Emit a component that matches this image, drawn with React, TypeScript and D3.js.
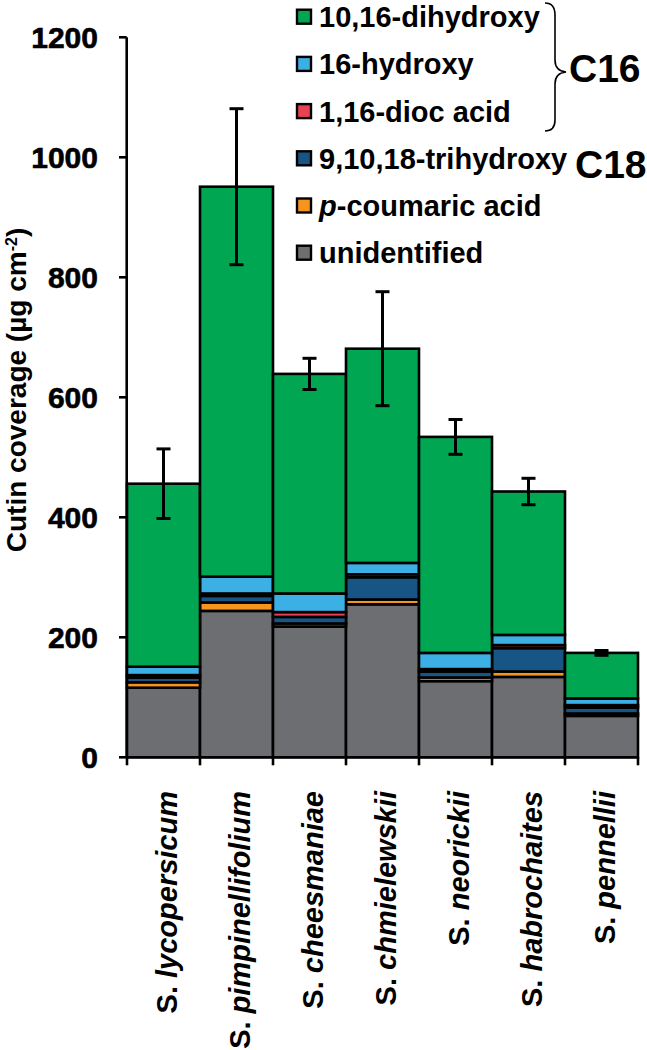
import React from "react";
import * as d3 from "d3";

const species = ["lycopersicum", "pimpinellifolium", "cheesmaniae", "chmielewskii", "neorickii", "habrochaites", "pennellii"];
const unidentified = [116, 244, 218, 255, 127, 134, 69];
const coumaric = [9, 14, 5, 8, 6, 9, 4];
const trihydroxy = [8, 11, 11, 37, 10, 39, 10];
const dioc = [4, 4, 8, 5, 4, 5, 4];
const hydroxy = [14, 28, 31, 19, 27, 17, 11];
const dihydroxy = [305, 650, 366, 357, 360, 239, 76];
const errors = [58, 130, 26, 95, 29, 22, 4];
const yTicks = [0, 200, 400, 600, 800, 1000, 1200];

const keys = ["unidentified", "coumaric", "trihydroxy", "dioc", "hydroxy", "dihydroxy"];
const colors: Record<string, string> = {
  unidentified: "#6d6e71",
  coumaric: "#f7941d",
  trihydroxy: "#175585",
  dioc: "#e8414f",
  hydroxy: "#3cb0e4",
  dihydroxy: "#00a651",
};
const legendItems = [
  { key: "dihydroxy", label: "10,16-dihydroxy" },
  { key: "hydroxy", label: "16-hydroxy" },
  { key: "dioc", label: "1,16-dioc acid" },
  { key: "trihydroxy", label: "9,10,18-trihydroxy" },
  { key: "coumaric", label: "p-coumaric acid" },
  { key: "unidentified", label: "unidentified" },
];

const FONT = "'Liberation Sans', Arial, Helvetica, sans-serif";

export default function App() {
  const x = d3.scaleBand<string>().domain(species).range([127, 638]).padding(0);
  const y = d3.scaleLinear().domain([0, 1200]).range([757.3, 37.3]);
  const table = species.map((s, i) => ({
    species: s,
    unidentified: unidentified[i],
    coumaric: coumaric[i],
    trihydroxy: trihydroxy[i],
    dioc: dioc[i],
    hydroxy: hydroxy[i],
    dihydroxy: dihydroxy[i],
  }));
  const stacked = d3.stack<any>().keys(keys)(table);
  const totals = table.map((d) => keys.reduce((a, k) => a + (d as any)[k], 0));
  const bw = x.bandwidth();

  return (
    <svg width={647} height={1050} style={{ position: "absolute", left: 0, top: 0, background: "#fff" }} fontFamily={FONT}>
      {/* bars */}
      {stacked.map((layer) => (
        <g key={layer.key}>
          {layer.map((seg, i) => (
            <rect
              key={i}
              x={x(species[i])!}
              y={y(seg[1])}
              width={bw}
              height={y(seg[0]) - y(seg[1])}
              fill={colors[layer.key]}
              stroke="#000"
              strokeWidth={2.6}
            />
          ))}
        </g>
      ))}
      {/* error bars */}
      {species.map((s, i) => {
        const cx = x(s)! + bw / 2;
        const t = y(totals[i] + errors[i]);
        const b = y(totals[i] - errors[i]);
        return (
          <g key={s} stroke="#000" strokeWidth={3}>
            <line x1={cx} x2={cx} y1={t} y2={b} />
            <line x1={cx - 7} x2={cx + 7} y1={t} y2={t} />
            <line x1={cx - 7} x2={cx + 7} y1={b} y2={b} />
          </g>
        );
      })}
      {/* y axis */}
      <line x1={126.7} x2={126.7} y1={y(1200)} y2={y(0)} stroke="#000" strokeWidth={2.6} />
      {yTicks.map((t) => (
        <g key={t}>
          <line x1={119} x2={126.7} y1={y(t)} y2={y(t)} stroke="#000" strokeWidth={2.6} />
          <text x={98} y={y(t)} dy="0.36em" textAnchor="end" fontSize={30} fontWeight="bold" stroke="#000" strokeWidth={0.6}>
            {t}
          </text>
        </g>
      ))}
      {/* x axis */}
      <line x1={126.7} x2={638} y1={y(0)} y2={y(0)} stroke="#000" strokeWidth={2.6} />
      {[...species.map((s) => x(s)!), 638].map((px, i) => (
        <line key={i} x1={px} x2={px} y1={y(0)} y2={y(0) + 8} stroke="#000" strokeWidth={2.6} />
      ))}
      {species.map((s) => {
        const cx = x(s)! + bw / 2 + 13;
        return (
          <text
            key={s}
            transform={`translate(${cx},791) rotate(-90)`}
            textAnchor="end"
            fontSize={29}
            fontWeight="bold"
          >
            <tspan>S. </tspan>
            <tspan fontStyle="italic">{s}</tspan>
          </text>
        );
      })}
      {/* y label */}
      <text transform="translate(26,390) rotate(-90)" textAnchor="middle" fontSize={28} fontWeight="bold">
        Cutin coverage (µg cm
        <tspan fontSize={16} dy={-9}>-2</tspan>
        <tspan dy={9}>)</tspan>
      </text>
      {/* legend */}
      {legendItems.map((it, i) => {
        const cy = 16.7 + 47.2 * i;
        return (
          <g key={it.key}>
            <rect x={297} y={cy - 7} width={14} height={14} fill={colors[it.key]} stroke="#000" strokeWidth={2.4} />
            <text x={319} y={cy + 10.5} fontSize={29} fontWeight="bold">
              {it.key === "coumaric" ? (
                <>
                  <tspan fontStyle="italic">p</tspan>
                  <tspan>-coumaric acid</tspan>
                </>
              ) : (
                it.label
              )}
            </text>
          </g>
        );
      })}
      {/* brace */}
      <path
        d="M 545 3 Q 555 3 555 15 L 555 60 Q 555 71 566 72 Q 555 73 555 84 L 555 120 Q 555 131 545 131"
        fill="none"
        stroke="#000"
        strokeWidth={1.6}
      />
      <text x={569} y={81.7} fontSize={39} fontWeight="bold">C16</text>
      <text x={575} y={178.3} fontSize={39} fontWeight="bold">C18</text>
    </svg>
  );
}
